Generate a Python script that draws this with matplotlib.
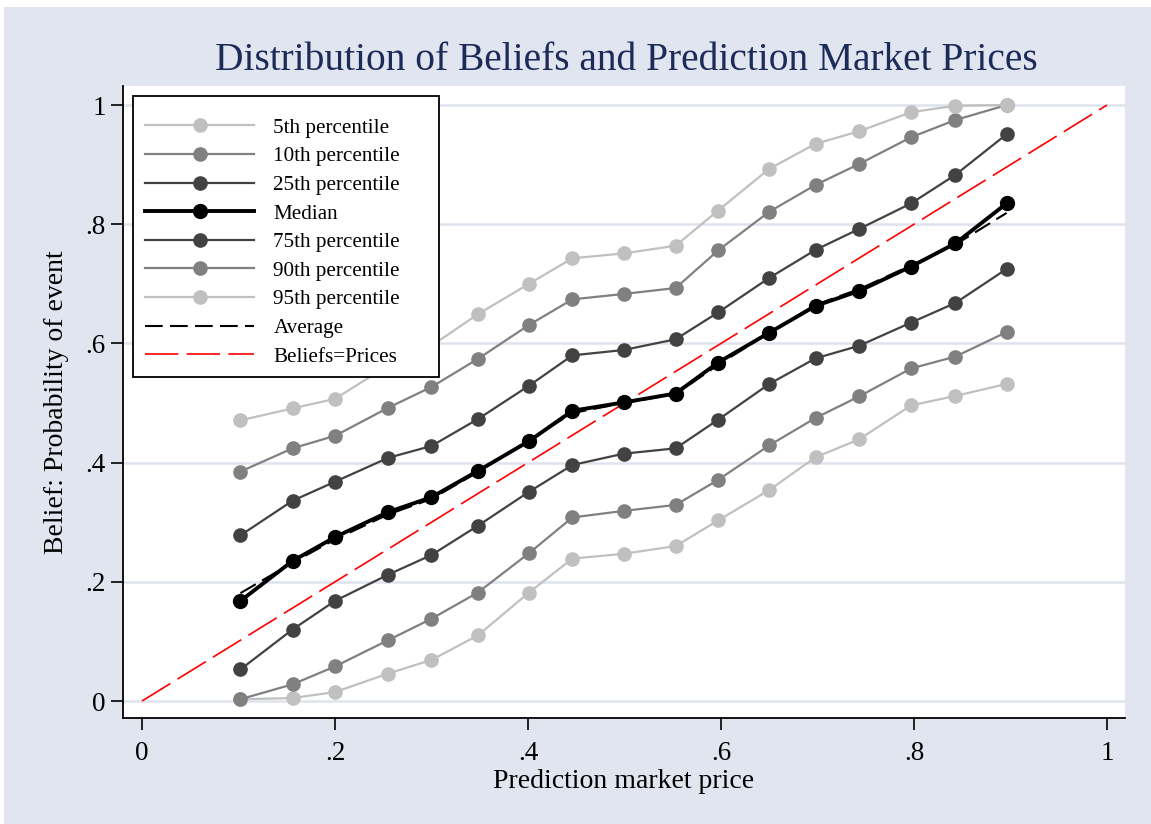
import matplotlib
matplotlib.use("Agg")
import matplotlib.pyplot as plt
from matplotlib.patches import Rectangle

plt.rcParams['font.family'] = ['Liberation Serif', 'DejaVu Serif']

# bin means of the market price
price = [0.102, 0.156, 0.200, 0.255, 0.300, 0.348, 0.401, 0.446, 0.499,
         0.553, 0.597, 0.650, 0.698, 0.743, 0.797, 0.843, 0.896]

p5 = [0.003, 0.005, 0.015, 0.046, 0.069, 0.110, 0.182, 0.239, 0.247,
      0.260, 0.303, 0.354, 0.409, 0.439, 0.496, 0.512, 0.532]
p10 = [0.003, 0.028, 0.058, 0.102, 0.138, 0.182, 0.248, 0.308, 0.319,
       0.329, 0.371, 0.429, 0.475, 0.511, 0.558, 0.578, 0.619]
p25 = [0.053, 0.120, 0.168, 0.212, 0.245, 0.294, 0.351, 0.396, 0.415,
       0.424, 0.472, 0.532, 0.575, 0.596, 0.635, 0.668, 0.725]
p50 = [0.168, 0.235, 0.275, 0.317, 0.342, 0.386, 0.436, 0.487, 0.501,
       0.516, 0.568, 0.618, 0.663, 0.688, 0.729, 0.768, 0.835]
p75 = [0.278, 0.336, 0.368, 0.408, 0.428, 0.473, 0.529, 0.580, 0.589,
       0.607, 0.652, 0.710, 0.757, 0.792, 0.835, 0.883, 0.951]
p90 = [0.385, 0.424, 0.445, 0.492, 0.527, 0.574, 0.631, 0.674, 0.683,
       0.693, 0.756, 0.821, 0.866, 0.901, 0.946, 0.975, 1.000]
p95 = [0.471, 0.491, 0.507, 0.563, 0.596, 0.649, 0.700, 0.743, 0.751,
       0.764, 0.823, 0.893, 0.935, 0.956, 0.988, 0.999, 1.000]
avg = [0.181, 0.232, 0.271, 0.313, 0.339, 0.384, 0.438, 0.483, 0.500,
       0.515, 0.564, 0.618, 0.665, 0.691, 0.731, 0.766, 0.819]

diag = [0, 1]

bg = '#e1e5f0'
light = '#c0c0c0'
mid = '#808080'
dark = '#424242'

fig = plt.figure(figsize=(11.51, 8.24), dpi=100, facecolor='white')
fig.patches.append(Rectangle((4 / 1151, 0), 1, 1 - 7 / 824, transform=fig.transFigure,
                             facecolor=bg, edgecolor='none', zorder=-10))
ax = fig.add_axes([123 / 1151, 1 - 718 / 824, 1002 / 1151, 632 / 824])
ax.set_facecolor('white')

ax.grid(axis='y', color='#dfe3ee', lw=1.8, zorder=0)
ax.set_axisbelow(True)

ms = 9.5
h5, = ax.plot(price, p5, '-o', color=light, lw=1.6, ms=ms, label='5th percentile')
h10, = ax.plot(price, p10, '-o', color=mid, lw=1.6, ms=ms, label='10th percentile')
h25, = ax.plot(price, p25, '-o', color=dark, lw=1.6, ms=ms, label='25th percentile')
h75, = ax.plot(price, p75, '-o', color=dark, lw=1.6, ms=ms, label='75th percentile')
h90, = ax.plot(price, p90, '-o', color=mid, lw=1.6, ms=ms, label='90th percentile')
h95, = ax.plot(price, p95, '-o', color=light, lw=1.6, ms=ms, label='95th percentile')
hbp, = ax.plot(diag, diag, color='red', lw=1.2, dashes=(20, 5), label='Beliefs=Prices')
hav, = ax.plot(price, avg, color='black', lw=1.5, dashes=(8.5, 3.5), label='Average')
hmed, = ax.plot(price, p50, '-o', color='black', lw=2.8, ms=10, label='Median')

ax.set_xlim(-0.0197, 1.0187)
ax.set_ylim(-0.0285, 1.032)
ticks = [0, 0.2, 0.4, 0.6, 0.8, 1]
labels = ['0', '.2', '.4', '.6', '.8', '1']
ax.set_xticks(ticks, labels)
ax.set_yticks(ticks, labels)
ax.tick_params(length=8.5, width=1.2, labelsize=19.5, colors='black')
ax.tick_params(axis='x', pad=8)
ax.tick_params(axis='y', pad=4)
ax.spines['top'].set_visible(False)
ax.spines['right'].set_visible(False)
ax.spines['left'].set_linewidth(1.3)
ax.spines['bottom'].set_linewidth(1.3)

ax.set_xlabel('Prediction market price', fontsize=20, labelpad=2)
ax.set_ylabel('Belief: Probability of event', fontsize=20, labelpad=12)
fig.text(626 / 1151, 1 - 61 / 824, 'Distribution of Beliefs and Prediction Market Prices',
         ha='center', va='center', fontsize=28.4, color='#1c2b58')

# legend box drawn separately (Stata leaves extra room at top and right)
ax.add_patch(Rectangle((0.01, 0.5396), 0.3054, 0.4446, transform=ax.transAxes,
                       facecolor='white', edgecolor='black', lw=1.3, zorder=4))
leg = ax.legend([h5, h10, h25, hmed, h75, h90, h95, hav, hbp],
                ['5th percentile', '10th percentile', '25th percentile', 'Median',
                 '75th percentile', '90th percentile', '95th percentile', 'Average',
                 'Beliefs=Prices'],
                loc='upper left', bbox_to_anchor=(0.01, 0.968), fontsize=15.2,
                handlelength=5.2, handletextpad=0.9, labelspacing=0.42,
                borderpad=0.55, borderaxespad=0, frameon=False)
leg.set_zorder(5)

fig.savefig('out.png', dpi=100)
